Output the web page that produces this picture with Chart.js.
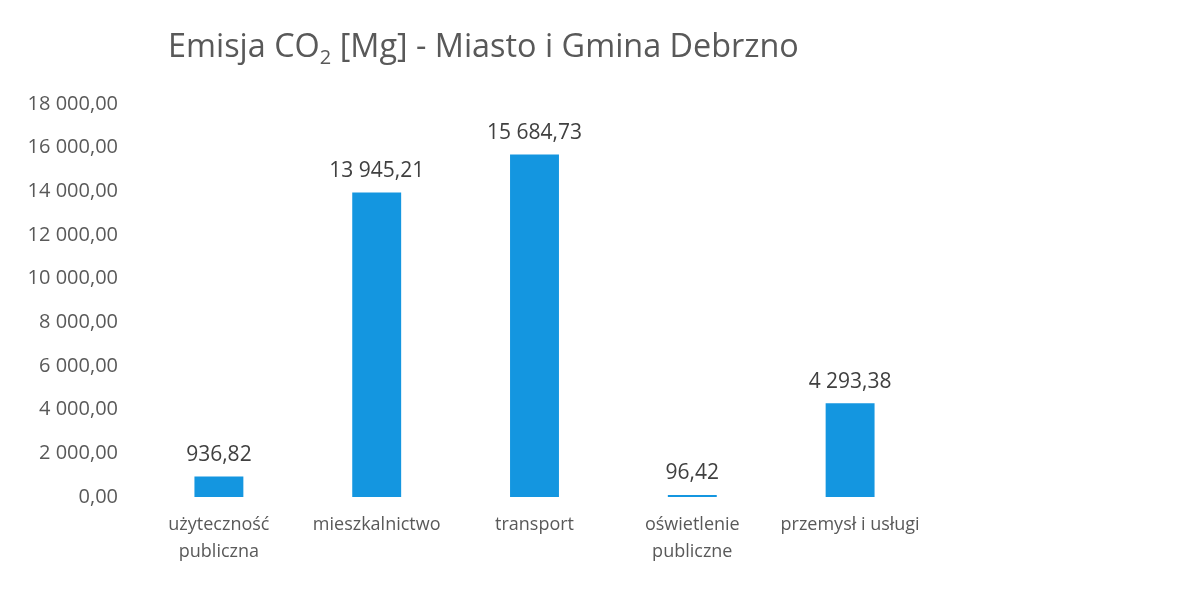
<!DOCTYPE html>
<html>
<head>
<meta charset="utf-8">
<script src="https://cdn.jsdelivr.net/npm/chart.js@4"></script>
<style>
  html, body { margin: 0; padding: 0; background: #fff; }
  #wrap { position: relative; width: 1200px; height: 598px; }
  #title {
    position: absolute; left: 168px; top: 22px;
    font-family: "Open Sans", sans-serif; font-size: 32.4px; color: #595959;
    white-space: nowrap;
  }
  #title sub { font-size: 20px; vertical-align: -7px; line-height: 0; }
</style>
</head>
<body>
<div id="wrap">
  <div id="title">Emisja CO<sub>2</sub> [Mg] - Miasto i Gmina Debrzno</div>
  <canvas id="emisjaChart" width="1200" height="598"></canvas>
</div>
<script>
const categories = [
  ['użyteczność', 'publiczna'],
  'mieszkalnictwo',
  'transport',
  ['oświetlenie', 'publiczne'],
  'przemysł i usługi'
];
const emisja = [936.82, 13945.21, 15684.73, 96.42, 4293.38];
const yMax = 18000;
const yStep = 2000;

function fmt(v){
  const parts = v.toFixed(2).split('.');
  const whole = parts[0].replace(/\B(?=(\d{3})+(?!\d))/g, ' ');
  return whole + ',' + parts[1];
}

// wartości nad słupkami
const valueLabels = {
  id: 'valueLabels',
  afterDatasetsDraw(chart){
    const ctx = chart.ctx;
    const meta = chart.getDatasetMeta(0);
    ctx.save();
    ctx.font = '21px "Open Sans", sans-serif';
    ctx.fillStyle = '#404040';
    ctx.textAlign = 'center';
    ctx.textBaseline = 'bottom';
    meta.data.forEach((bar, i) => {
      ctx.fillText(fmt(emisja[i]), bar.x, bar.y - 11);
    });
    ctx.restore();
  }
};

document.addEventListener("DOMContentLoaded", function(){
  const ctx = document.getElementById('emisjaChart');
  new Chart(ctx, {
    type: 'bar',
    data: {
      labels: categories,
      datasets: [{
        label: 'Emisja CO2 [Mg]',
        data: emisja,
        backgroundColor: '#1496e0',
        categoryPercentage: 1,
        barPercentage: 0.31
      }]
    },
    options: {
      responsive: false,
      animation: false,
      layout: { padding: { left: 20, right: 271, top: 104, bottom: 27 } },
      plugins: {
        legend: { display: false },
        tooltip: { enabled: false },
        title: { display: false }
      },
      scales: {
        x: {
          grid: { display: false },
          border: { display: false },
          ticks: {
            color: '#595959',
            font: { family: '"Open Sans", sans-serif', size: 18, lineHeight: 1.5 },
            maxRotation: 0,
            padding: 6
          }
        },
        y: {
          min: 0,
          max: yMax,
          grid: { display: false },
          border: { display: false },
          afterFit: s => { s.width = 120; },
          ticks: {
            stepSize: yStep,
            color: '#595959',
            font: { family: '"Open Sans", sans-serif', size: 20 },
            padding: 14,
            callback: v => fmt(v)
          }
        }
      }
    },
    plugins: [valueLabels]
  });
});
</script>
</body>
</html>
